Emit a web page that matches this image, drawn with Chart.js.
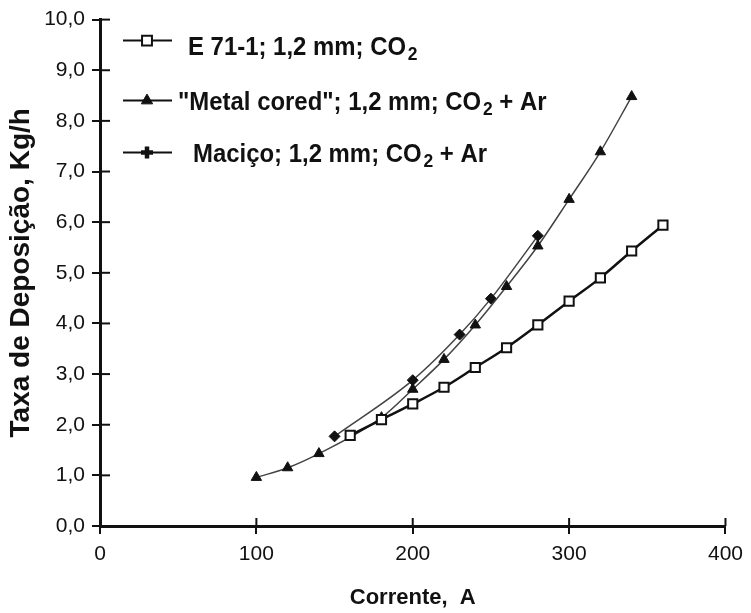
<!DOCTYPE html>
<html>
<head>
<meta charset="utf-8">
<script src="https://cdn.jsdelivr.net/npm/chart.js@4.4.1/dist/chart.umd.min.js"></script>
<style>
  html, body { margin: 0; padding: 0; background: #fff; }
</style>
</head>
<body>
<canvas id="chart" width="751" height="613"></canvas>
<script>
// values
const e71Current = [160, 180, 200, 220, 240, 260, 280, 300, 320, 340, 360];
const e71Rate    = [1.79, 2.10, 2.41, 2.74, 3.13, 3.52, 3.97, 4.44, 4.90, 5.43, 5.94];

const metalCurrent = [100, 120, 140, 180, 200, 220, 240, 260, 280, 300, 320, 340];
const metalRate    = [0.96, 1.15, 1.43, 2.14, 2.70, 3.29, 3.97, 4.73, 5.53, 6.45, 7.39, 8.48];

const macicoCurrent = [150, 200, 230, 250, 280];
const macicoRate    = [1.77, 2.88, 3.78, 4.49, 5.73];

const seriesLabels = ['E 71-1; 1,2 mm; CO₂', '"Metal cored"; 1,2 mm; CO₂ + Ar', 'Maciço; 1,2 mm; CO₂ + Ar'];
const xTitle = 'Corrente,  A';
const yTitle = 'Taxa de Deposição, Kg/h';

const FONT = "'Liberation Sans', Arial, sans-serif";
const INK = '#111';

const toPoints = (xs, ys) => xs.map((x, i) => ({ x: x, y: ys[i] }));

const pointLooks = [
  { pointStyle: 'rect', radius: 7, fill: '#fff', border: 2 },
  { pointStyle: 'triangle', radius: 6.5, fill: INK, border: 1 },
  { pointStyle: 'cross', radius: 6, fill: INK, border: 4.5 }
];

// ticks on these axes cross the axis line, draw the inner half here
const innerTicks = {
  id: 'innerTicks',
  afterDatasetsDraw(chart) {
    const ctx = chart.ctx;
    const a = chart.chartArea;
    ctx.save();
    ctx.strokeStyle = INK;
    ctx.lineWidth = 2;
    chart.scales.y.ticks.forEach((t) => {
      const y = chart.scales.y.getPixelForValue(t.value);
      ctx.beginPath();
      ctx.moveTo(a.left, y);
      ctx.lineTo(a.left + 10, y);
      ctx.stroke();
    });
    chart.scales.x.ticks.forEach((t) => {
      const x = chart.scales.x.getPixelForValue(t.value);
      ctx.beginPath();
      ctx.moveTo(x, a.bottom);
      ctx.lineTo(x, a.bottom - 8);
      ctx.stroke();
    });
    ctx.restore();
  }
};

// legend inside the plot, with CO2 subscript
const boxLegend = {
  id: 'boxLegend',
  afterDraw(chart) {
    const ctx = chart.ctx;
    const a = chart.chartArea;
    const lineY = [a.top + 21, a.top + 81, a.top + 133];
    const textY = [a.top + 35, a.top + 90, a.top + 142];
    const textX = [a.left + 88, a.left + 78, a.left + 93];
    const squeeze = 0.92;
    ctx.save();
    seriesLabels.forEach((label, i) => {
      const y = lineY[i];
      ctx.strokeStyle = INK;
      ctx.lineWidth = 2;
      ctx.beginPath();
      ctx.moveTo(a.left + 23, y);
      ctx.lineTo(a.left + 72, y);
      ctx.stroke();

      const look = pointLooks[i];
      ctx.fillStyle = look.fill;
      ctx.strokeStyle = INK;
      ctx.lineWidth = look.border;
      Chart.helpers.drawPoint(ctx, { pointStyle: look.pointStyle, radius: look.radius, rotation: 0, borderWidth: look.border }, a.left + 47, y);

      const parts = label.split('₂');
      const base = textY[i];
      ctx.save();
      ctx.translate(textX[i], base);
      ctx.scale(squeeze, 1);
      let x = 0;
      ctx.fillStyle = INK;
      ctx.textBaseline = 'alphabetic';
      ctx.textAlign = 'left';
      ctx.font = 'bold 26px ' + FONT;
      ctx.fillText(parts[0], x, 0);
      x += ctx.measureText(parts[0]).width + 2;
      ctx.font = 'bold 19px ' + FONT;
      ctx.fillText('2', x, 5);
      x += ctx.measureText('2').width;
      if (parts[1]) {
        ctx.font = 'bold 26px ' + FONT;
        ctx.fillText(parts[1], x, 0);
      }
      ctx.restore();
    });
    ctx.restore();
  }
};

const datasets = [
  {
    label: seriesLabels[0],
    data: toPoints(e71Current, e71Rate),
    borderColor: INK,
    borderWidth: 2.5,
    pointStyle: 'rect',
    pointRadius: 6.5,
    pointBackgroundColor: '#fff',
    pointBorderColor: INK,
    pointBorderWidth: 2,
    cubicInterpolationMode: 'monotone',
    order: 1
  },
  {
    label: seriesLabels[1],
    data: toPoints(metalCurrent, metalRate),
    borderColor: '#444',
    borderWidth: 1.5,
    pointStyle: 'triangle',
    pointRadius: 6,
    pointBackgroundColor: INK,
    pointBorderColor: INK,
    pointBorderWidth: 1,
    cubicInterpolationMode: 'monotone',
    order: 2
  },
  {
    label: seriesLabels[2],
    data: toPoints(macicoCurrent, macicoRate),
    borderColor: '#444',
    borderWidth: 1.5,
    pointStyle: 'rectRot',
    pointRadius: 5.5,
    pointBackgroundColor: INK,
    pointBorderColor: INK,
    pointBorderWidth: 1,
    cubicInterpolationMode: 'monotone',
    order: 3
  }
];

new Chart(document.getElementById('chart'), {
  type: 'line',
  data: { datasets: datasets },
  options: {
    responsive: false,
    animation: false,
    devicePixelRatio: 1,
    layout: { padding: { top: 14, right: 24, bottom: 0, left: 0 } },
    plugins: {
      legend: { display: false },
      tooltip: { enabled: false }
    },
    scales: {
      x: {
        type: 'linear',
        min: 0,
        max: 400,
        ticks: {
          stepSize: 100,
          color: INK,
          padding: 8,
          font: { family: FONT, size: 21 }
        },
        grid: { drawOnChartArea: false, drawTicks: true, tickLength: 8, color: INK, lineWidth: 2 },
        border: { color: INK, width: 3 },
        title: {
          display: true,
          text: xTitle,
          color: INK,
          font: { family: FONT, size: 22, weight: 'bold' },
          padding: { top: 0, bottom: 2 }
        },
        afterFit: (s) => { s.height = 87; }
      },
      y: {
        min: 0,
        max: 10,
        ticks: {
          stepSize: 1,
          color: INK,
          padding: 7,
          font: { family: FONT, size: 21 },
          callback: (v) => v.toFixed(1).replace('.', ',')
        },
        grid: { drawOnChartArea: false, drawTicks: true, tickLength: 8, color: INK, lineWidth: 2 },
        border: { color: INK, width: 3 },
        title: {
          display: true,
          text: yTitle,
          color: INK,
          font: { family: FONT, size: 28, weight: 'bold' },
          padding: { top: 4, bottom: 0 }
        },
        afterFit: (s) => { s.width = 100; }
      }
    }
  },
  plugins: [innerTicks, boxLegend]
});
</script>
</body>
</html>
